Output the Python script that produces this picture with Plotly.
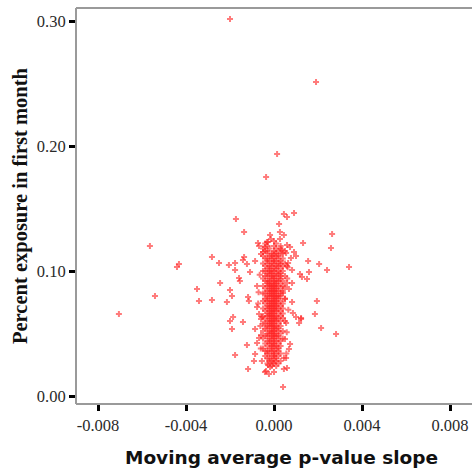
import plotly.graph_objects as go

# ---- data (x in units of 1e-4, y in units of 1e-3) ----
outlier_x = [-70.5, -56.4, -54.1, -43.2, -44.1, -35.0, -34.1, -28.2, -25.0, -28.2, -24.5,
             -20.0, 19.1, 1.4, -3.6, -17.3, -13.6, -20.5, -17.7, -17.7, -14.1, -13.6,
             -12.3, -10.9, -15.9, -15.5, -20.0, -19.1, -11.8, -8.6, -7.3, -6.8, -5.9,
             -5.0, -4.1, -3.2, 4.5, 5.9, 9.1, 2.3, 2.7, 4.5, 2.7, -1.8, -1.4, -2.7,
             13.2, 5.9, 7.3, 3.6, 5.5, 9.1, 10.0, 7.7, 15.5, 20.5, 6.4, 5.9, 8.2, 11.8,
             12.7, 15.9, 24.1, 15.0, 8.2, 5.9, 6.8, 5.0, 4.1, -7.7, 26.4, 25.9, 34.1,
             19.5, 18.6, 21.4, 28.2, -21.4, -18.6, -20.0, -14.1, -19.1, -8.6, -11.4,
             -12.3, -17.7, -8.6, -7.7, -9.1, -5.5, -11.8, -4.1, -2.7, -2.3, 4.1, 4.5,
             5.9, 6.8, 7.3, 4.5, 5.5, 5.0, 5.0, 8.2, 8.6, 10.0, 12.3, 11.4, -5.5, -7.7,
             -6.8, -5.9, -5.9, -6.8, -0.5, -1.8, -3.6, 0.0, 4.1, 5.5, 12.3,
             -6.5, -7.0, 6.0, 6.5, -6.2, 5.8, -7.2, 6.2, -6.0, 5.6]
outlier_y = [65.6, 120.0, 80.0, 105.6, 103.2, 85.6, 76.0, 111.2, 106.4, 76.8, 90.4,
             301.6, 251.2, 193.6, 175.2, 141.6, 131.2, 104.8, 106.4, 100.8, 108.8, 111.2,
             105.6, 99.2, 94.4, 92.0, 84.8, 80.0, 79.2, 108.0, 122.4, 120.0, 113.6,
             115.2, 119.2, 123.2, 145.6, 143.2, 146.4, 137.6, 131.2, 128.8, 125.6, 128.8,
             125.6, 123.2, 122.4, 120.8, 119.2, 116.8, 114.4, 115.2, 112.0, 110.4, 108.0,
             105.6, 106.4, 104.0, 100.8, 97.6, 95.2, 99.2, 100.8, 93.6, 90.4, 90.4, 85.6,
             87.2, 82.4, 88.0, 129.6, 118.4, 103.2, 76.0, 65.6, 54.4, 49.6, 75.2, 63.2,
             60.0, 59.2, 53.6, 53.6, 76.0, 40.8, 32.8, 33.6, 42.4, 28.0, 28.0, 21.6,
             19.2, 24.8, 17.6, 7.2, 21.6, 22.4, 37.6, 41.6, 30.4, 30.4, 45.6, 77.6, 75.2,
             66.4, 63.2, 61.6, 58.4, 63.2, 71.2, 65.6, 61.6, 48.8, 46.4, 26.4, 23.2, 20.0,
             19.2, 62.4, 58.4, 62.4,
             97.0, 83.0, 94.0, 69.0, 56.0, 51.0, 74.0, 103.0, 38.0, 34.0]

# dense column near zero slope: y level (1e-3) -> x values (1e-4)
col_levels = [124, 122, 120, 118, 116, 114, 112, 110, 108, 106, 104, 102, 100, 98, 96, 94,
              92, 90, 88, 86, 84, 82, 80, 78, 76, 74, 72, 70, 68, 66, 64, 62, 60, 58, 56,
              54, 52, 50, 48, 46, 44, 42, 40, 38, 36, 34, 32, 30, 28, 26, 24]
col_x = [[0], [-4, 1], [-3, 0, 3], [-5, -2, 1, 3], [-4, -3, 0, 2, 5],
         [-3, -1, 0, 1, 3, 4], [-5, -2, -1, 1, 2], [-4, -3, -1, 0, 2, 4], [-3, -2, 0, 1, 3],
         [-5, -3, -1, 0, 2, 3, 5], [-4, -2, -1, 1, 2, 4], [-3, -2, 0, 1, 3],
         [-5, -4, -2, -1, 0, 2, 4], [-3, -2, -1, 1, 2, 3], [-4, -3, -1, 0, 1, 3, 5],
         [-5, -2, -1, 0, 2, 3], [-4, -3, -2, 0, 1, 2, 4], [-3, -2, -1, 0, 1, 3],
         [-5, -3, -2, -1, 0, 1, 2, 4], [-4, -2, -1, 0, 1, 3], [-3, -2, -1, 0, 1, 2, 4],
         [-5, -4, -2, -1, 0, 1, 3], [-3, -2, -1, 0, 1, 2, 3], [-4, -3, -1, 0, 1, 2, 5],
         [-5, -3, -2, -1, 0, 1, 3], [-4, -2, -1, 0, 1, 2, 4], [-3, -2, -1, 0, 1, 3],
         [-5, -3, -2, -1, 0, 1, 2, 4], [-4, -2, -1, 0, 1, 3], [-3, -2, -1, 0, 2, 4],
         [-5, -3, -2, -1, 0, 1, 3], [-4, -2, -1, 0, 1, 2], [-3, -2, -1, 0, 1, 3, 5],
         [-5, -4, -2, -1, 0, 2], [-3, -2, -1, 0, 1, 3], [-4, -3, -1, 0, 1, 2],
         [-5, -2, -1, 0, 2, 4], [-3, -2, -1, 0, 1, 3], [-4, -3, -1, 0, 1, 2],
         [-5, -2, -1, 0, 2, 4], [-3, -2, 0, 1, 3], [-4, -2, -1, 0, 2], [-3, -1, 0, 1, 3],
         [-5, -2, -1, 1, 2], [-4, -3, -1, 0, 2], [-3, -2, 0, 1, 3], [-4, -1, 0, 2],
         [-3, -2, 0, 1], [-2, -1, 1, 3], [-3, 0, 2], [-1, 1]]

x_ticks = [-0.008, -0.004, 0.0, 0.004, 0.008]
x_tick_text = ["-0.008", "-0.004", "0.000", "0.004", "0.008"]
y_ticks = [0.0, 0.1, 0.2, 0.3]
y_tick_text = ["0.00", "0.10", "0.20", "0.30"]
x_title = "Moving average p-value slope"
y_title = "Percent exposure in first month"

# ---- build points ----
xs = [v * 1e-4 for v in outlier_x]
ys = [v * 1e-3 for v in outlier_y]
for lvl, row in zip(col_levels, col_x):
    for v in row:
        xs.append(v * 1e-4)
        ys.append(lvl * 1e-3)

fig = go.Figure()
fig.add_trace(go.Scatter(
    x=xs, y=ys, mode="markers",
    marker=dict(symbol="cross", size=5, color="rgb(255,35,35)", opacity=0.6,
                line=dict(width=0)),
    showlegend=False, hoverinfo="skip"))

axis_line = "#9a9a9a"
tick_font = dict(family="Liberation Serif", size=16.5, color="#2a2a2a")

fig.update_layout(
    width=472, height=474,
    margin=dict(l=76, r=0, t=8, b=70),
    paper_bgcolor="white", plot_bgcolor="white",
    xaxis=dict(range=[-0.009, 0.009], tickvals=x_ticks, ticktext=x_tick_text,
               showgrid=False, zeroline=False, showline=False,
               ticks="outside", ticklen=6, tickwidth=3,
               tickcolor="black", tickfont=tick_font),
    yaxis=dict(range=[-0.0064, 0.3104], tickvals=y_ticks, ticktext=y_tick_text,
               showgrid=False, zeroline=False, showline=False,
               ticks="outside", ticklen=6, tickwidth=3,
               tickcolor="black", tickfont=tick_font),
    shapes=[
        dict(type="line", xref="paper", yref="paper", x0=0, x1=1, y0=1, y1=1,
             line=dict(color=axis_line, width=2)),
        dict(type="line", xref="paper", yref="paper", x0=0, x1=1, y0=0, y1=0,
             line=dict(color=axis_line, width=2)),
        dict(type="line", xref="paper", yref="paper", x0=0, x1=0, y0=0, y1=1,
             line=dict(color=axis_line, width=2)),
    ],
    annotations=[
        dict(text=x_title, xref="paper", yref="paper", x=0.5202, y=-0.1351,
             xanchor="center", yanchor="middle", showarrow=False,
             font=dict(family="DejaVu Sans", size=18.5, color="#111111", weight="bold")),
        dict(text=y_title, xref="paper", yref="paper", x=-0.1414, y=0.5,
             xanchor="center", yanchor="middle", showarrow=False, textangle=-90,
             font=dict(family="Liberation Serif", size=20.5, color="#111111", weight="bold")),
    ],
)

fig.write_html("out.html")
